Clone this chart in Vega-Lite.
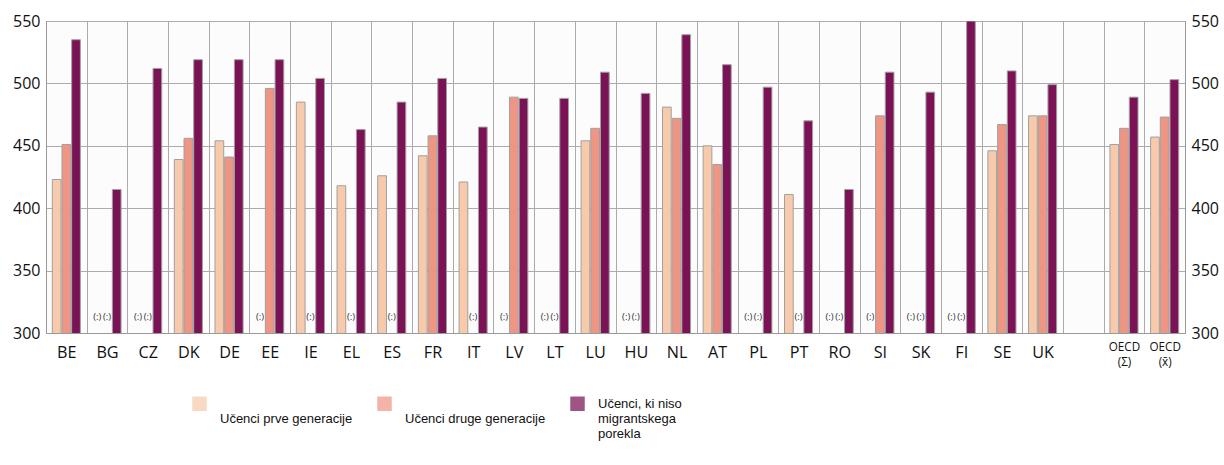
{
  "$schema": "https://vega.github.io/schema/vega-lite/v6.json",
  "width": 1139,
  "height": 312,
  "autosize": {"type": "none"},
  "padding": {"left": 46, "top": 21, "right": 39, "bottom": 132},
  "background": "#FFFFFF",
  "config": {
    "view": {"fill": "#FCFCFC", "stroke": "#A6A6A6"},
    "axis": {"gridColor": "#ABABAB", "gridWidth": 1, "domainColor": "#9A9A9A", "ticks": false, "labelColor": "#111111", "labelFont": "Open Sans", "labelFontSize": 16, "title": null}
  },
  "data": {
    "values": [
      {"c": "BE", "g": "P", "v": 423}, {"c": "BE", "g": "D", "v": 451}, {"c": "BE", "g": "N", "v": 535},
      {"c": "BG", "g": "P", "v": null}, {"c": "BG", "g": "D", "v": null}, {"c": "BG", "g": "N", "v": 415},
      {"c": "CZ", "g": "P", "v": null}, {"c": "CZ", "g": "D", "v": null}, {"c": "CZ", "g": "N", "v": 512},
      {"c": "DK", "g": "P", "v": 439}, {"c": "DK", "g": "D", "v": 456}, {"c": "DK", "g": "N", "v": 519},
      {"c": "DE", "g": "P", "v": 454}, {"c": "DE", "g": "D", "v": 441}, {"c": "DE", "g": "N", "v": 519},
      {"c": "EE", "g": "P", "v": null}, {"c": "EE", "g": "D", "v": 496}, {"c": "EE", "g": "N", "v": 519},
      {"c": "IE", "g": "P", "v": 485}, {"c": "IE", "g": "D", "v": null}, {"c": "IE", "g": "N", "v": 504},
      {"c": "EL", "g": "P", "v": 418}, {"c": "EL", "g": "D", "v": null}, {"c": "EL", "g": "N", "v": 463},
      {"c": "ES", "g": "P", "v": 426}, {"c": "ES", "g": "D", "v": null}, {"c": "ES", "g": "N", "v": 485},
      {"c": "FR", "g": "P", "v": 442}, {"c": "FR", "g": "D", "v": 458}, {"c": "FR", "g": "N", "v": 504},
      {"c": "IT", "g": "P", "v": 421}, {"c": "IT", "g": "D", "v": null}, {"c": "IT", "g": "N", "v": 465},
      {"c": "LV", "g": "P", "v": null}, {"c": "LV", "g": "D", "v": 489}, {"c": "LV", "g": "N", "v": 488},
      {"c": "LT", "g": "P", "v": null}, {"c": "LT", "g": "D", "v": null}, {"c": "LT", "g": "N", "v": 488},
      {"c": "LU", "g": "P", "v": 454}, {"c": "LU", "g": "D", "v": 464}, {"c": "LU", "g": "N", "v": 509},
      {"c": "HU", "g": "P", "v": null}, {"c": "HU", "g": "D", "v": null}, {"c": "HU", "g": "N", "v": 492},
      {"c": "NL", "g": "P", "v": 481}, {"c": "NL", "g": "D", "v": 472}, {"c": "NL", "g": "N", "v": 539},
      {"c": "AT", "g": "P", "v": 450}, {"c": "AT", "g": "D", "v": 435}, {"c": "AT", "g": "N", "v": 515},
      {"c": "PL", "g": "P", "v": null}, {"c": "PL", "g": "D", "v": null}, {"c": "PL", "g": "N", "v": 497},
      {"c": "PT", "g": "P", "v": 411}, {"c": "PT", "g": "D", "v": null}, {"c": "PT", "g": "N", "v": 470},
      {"c": "RO", "g": "P", "v": null}, {"c": "RO", "g": "D", "v": null}, {"c": "RO", "g": "N", "v": 415},
      {"c": "SI", "g": "P", "v": null}, {"c": "SI", "g": "D", "v": 474}, {"c": "SI", "g": "N", "v": 509},
      {"c": "SK", "g": "P", "v": null}, {"c": "SK", "g": "D", "v": null}, {"c": "SK", "g": "N", "v": 493},
      {"c": "FI", "g": "P", "v": null}, {"c": "FI", "g": "D", "v": null}, {"c": "FI", "g": "N", "v": 550},
      {"c": "SE", "g": "P", "v": 446}, {"c": "SE", "g": "D", "v": 467}, {"c": "SE", "g": "N", "v": 510},
      {"c": "UK", "g": "P", "v": 474}, {"c": "UK", "g": "D", "v": 474}, {"c": "UK", "g": "N", "v": 499},
      {"c": "OECD_S", "g": "P", "v": 451}, {"c": "OECD_S", "g": "D", "v": 464}, {"c": "OECD_S", "g": "N", "v": 489},
      {"c": "OECD_X", "g": "P", "v": 457}, {"c": "OECD_X", "g": "D", "v": 473}, {"c": "OECD_X", "g": "N", "v": 503}
    ]
  },
  "layer": [
    {
      "mark": {"type": "bar", "stroke": "#A0A0A0", "strokeWidth": 1, "clip": true},
      "encoding": {
        "x": {
          "field": "c", "type": "nominal",
          "scale": {"domain": ["BE","BG","CZ","DK","DE","EE","IE","EL","ES","FR","IT","LV","LT","LU","HU","NL","AT","PL","PT","RO","SI","SK","FI","SE","UK","gap","OECD_S","OECD_X"], "paddingInner": 0, "paddingOuter": 0},
          "axis": {
            "orient": "bottom", "tickBand": "extent", "grid": true, "labelAngle": 0,
            "labelExpr": "datum.value == 'OECD_S' ? ['OECD', '(Σ)'] : datum.value == 'OECD_X' ? ['OECD', '(x\u0304)'] : datum.value == 'gap' ? '' : datum.value",
            "labelFontSize": {"condition": {"test": "datum.value == 'OECD_S' || datum.value == 'OECD_X'", "value": 11.7}, "value": 16.2},
            "labelPadding": {"condition": {"test": "datum.value == 'OECD_S' || datum.value == 'OECD_X'", "value": 8}, "value": 11},
            "labelLineHeight": 15.6
          }
        },
        "xOffset": {"field": "g", "type": "nominal", "scale": {"domain": ["P", "D", "N"], "paddingInner": 0.1, "paddingOuter": 0.65}},
        "y": {
          "field": "v", "type": "quantitative",
          "scale": {"domain": [300, 550], "zero": false, "nice": false},
          "axis": {"orient": "left", "values": [300, 350, 400, 450, 500, 550], "grid": true, "labelPadding": 6}
        },
        "color": {
          "field": "g", "type": "nominal",
          "scale": {"domain": ["P", "D", "N"], "range": ["#F7CAAC", "#EE9683", "#7A1255"]},
          "legend": {
            "orient": "none", "legendX": 146, "legendY": 375, "direction": "horizontal", "columns": 3, "columnPadding": 24,
            "title": null, "symbolType": "square", "symbolSize": 210, "symbolStrokeWidth": 0, "symbolOpacity": 0.72,
            "labelFont": "Liberation Sans, Arial, sans-serif", "labelFontSize": 13, "labelColor": "#111111", "labelOffset": 13, "labelLimit": 400,
            "labelExpr": "datum.label == 'P' ? ['', '', 'Učenci prve generacije'] : datum.label == 'D' ? ['', '', 'Učenci druge generacije'] : ['Učenci, ki niso', 'migrantskega', 'porekla']"
          }
        }
      }
    },
    {
      "transform": [{"filter": "datum.v == null"}],
      "mark": {"type": "text", "text": "(:)", "font": "Open Sans", "fontSize": 9.5, "fill": "#333333", "baseline": "middle"},
      "encoding": {
        "x": {"field": "c", "type": "nominal"},
        "xOffset": {"field": "g", "type": "nominal"},
        "y": {
          "datum": 313, "type": "quantitative",
          "scale": {"domain": [300, 550], "zero": false, "nice": false},
          "axis": {"orient": "right", "values": [300, 350, 400, 450, 500, 550], "grid": false, "labelPadding": 6}
        }
      }
    }
  ],
  "resolve": {"scale": {"y": "independent"}}
}
